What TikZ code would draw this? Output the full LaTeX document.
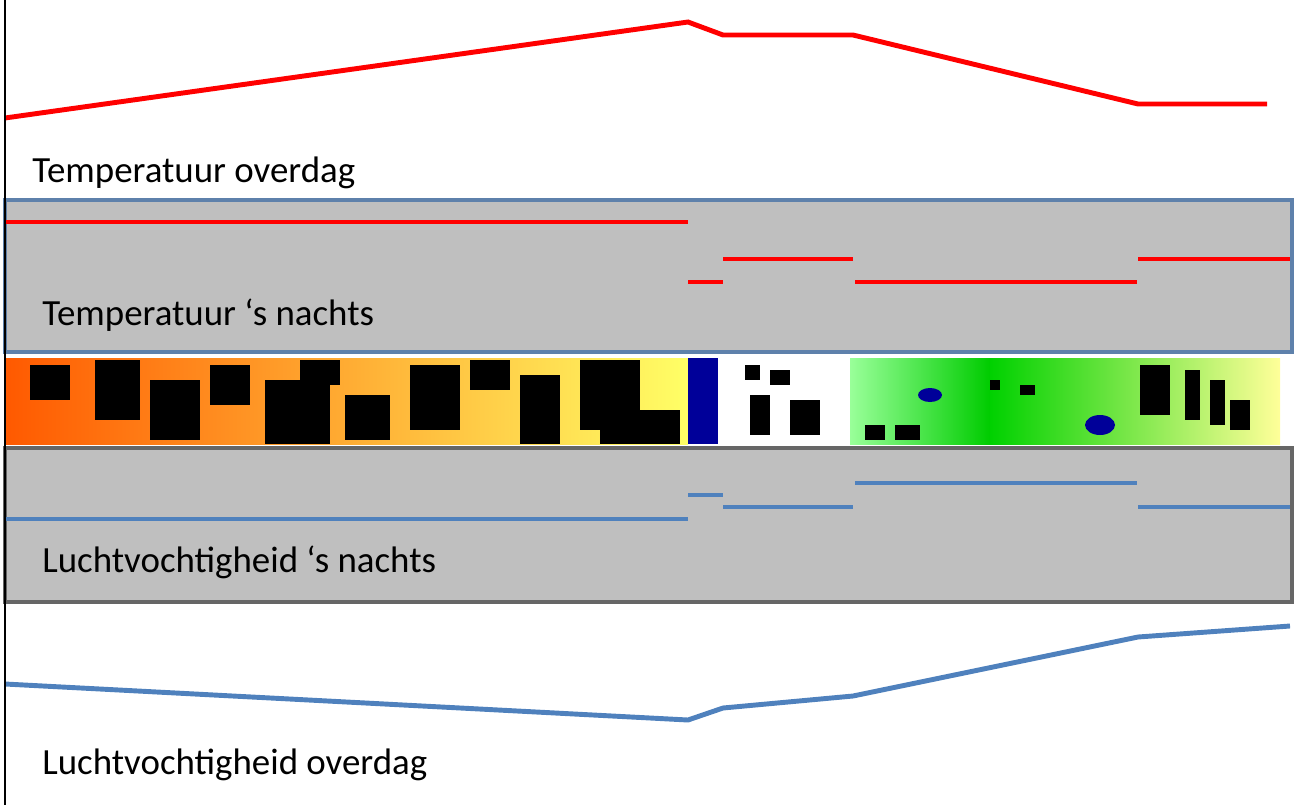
\documentclass[tikz,border=0pt]{standalone}
\usepackage{fontspec}
\setmainfont{Carlito}
\definecolor{tred}{HTML}{FF0000}
\definecolor{hblue}{HTML}{4F81BD}
\definecolor{panel}{HTML}{BFBFBF}
\begin{document}
\begin{tikzpicture}[x=0.02cm,y=-0.02cm,
  temp/.style={tred,line width=2.8pt},
  hum/.style={hblue,line width=2.8pt},
  lbl/.style={anchor=west,font=\fontsize{21}{24}\selectfont,inner sep=0pt},
  band/.style={fill=panel,line width=1.8pt}]
\useasboundingbox (0,0) rectangle (1294,805);
% panels
\draw[band,draw=hblue!70!gray] (5,200) rectangle (1292,352);
\draw[band,draw=gray!80!black] (5,448) rectangle (1292,602);
% map strip
\shade[left color=orange!70!red,right color=yellow!60] (5,358) rectangle (688,444);
\fill[blue!60!black] (688,358) rectangle (718,444);
\fill[white] (718,358) rectangle (850,444);
\shade[left color=green!40!white,right color=green!50!black!40!green] (850,358) rectangle (990,444);
\shade[left color=green!70!black!60!green,right color=yellow!40!white] (990,358) rectangle (1280,444);
\fill[blue!60!black] (930,395) ellipse (12 and 7);
\fill[blue!60!black] (1100,425) ellipse (15 and 10);
\foreach \a/\b/\c/\d in {30/365/70/400, 95/360/140/420, 150/380/200/440, 210/365/250/405,
  265/380/330/444, 300/360/340/385, 345/395/390/440, 410/365/460/430, 470/360/510/390,
  520/375/560/444, 580/360/640/430, 600/410/680/444, 745/365/760/380, 770/370/790/385,
  750/395/770/435, 790/400/820/435, 865/425/885/440, 895/425/920/440, 990/380/1000/390,
  1020/385/1035/395, 1140/365/1170/415, 1185/370/1200/420, 1210/380/1225/425, 1230/400/1250/430}
  \fill[black] (\a,\b) rectangle (\c,\d);
% curves
\draw[temp] (5,118) -- (688,22) -- (723,35) -- (853,35) -- (1138,104) -- (1267,104);
\draw[temp] (5,222) -- (688,222);
\draw[temp] (688,282) -- (723,282);
\draw[temp] (723,259) -- (853,259);
\draw[temp] (855,282) -- (1137,282);
\draw[temp] (1138,259) -- (1290,259);
\draw[hum] (5,519) -- (688,519);
\draw[hum] (688,495) -- (723,495);
\draw[hum] (723,507) -- (853,507);
\draw[hum] (855,483) -- (1137,483);
\draw[hum] (1138,507) -- (1290,507);
\draw[hum] (5,684) -- (688,720) -- (723,708) -- (853,696) -- (1138,637) -- (1290,626);
% axis
\draw[black,line width=1.2pt] (5,0) -- (5,805);
% labels
\node[lbl] (tday) at (32,173) {Temperatuur overdag};
\node[lbl] (tnight) at (42,315) {Temperatuur ‘s nachts};
\node[lbl] (hnight) at (42,562) {Luchtvochtigheid ‘s nachts};
\node[lbl] (hday) at (42,765) {Luchtvochtigheid overdag};
\end{tikzpicture}
\end{document}
